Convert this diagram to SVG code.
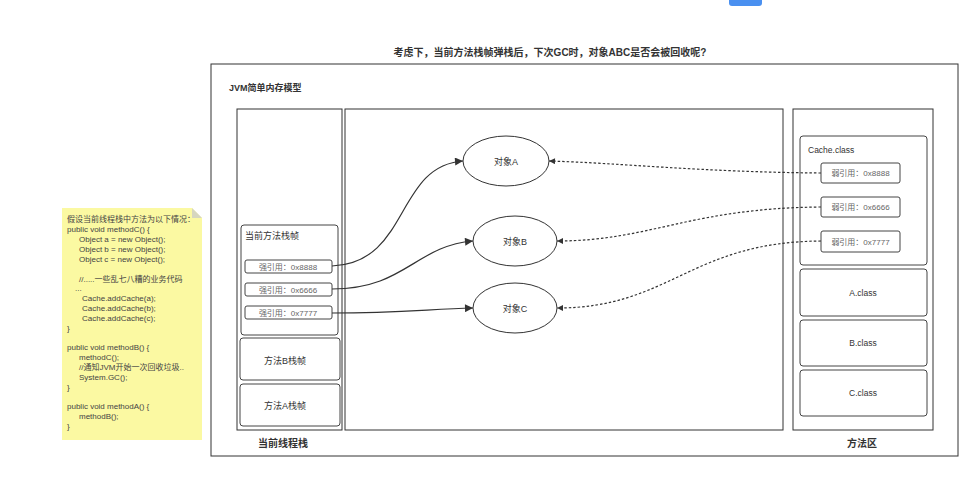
<svg xmlns="http://www.w3.org/2000/svg" width="972" height="499" viewBox="0 0 972 499">
<style>
text{font-family:"Liberation Sans","Noto Sans CJK SC",sans-serif;fill:#333}
.b{font-weight:bold}
.box{fill:#fff;stroke:#333;stroke-width:1}
.rbox{fill:#fff;stroke:#444;stroke-width:1}
.note{font-size:8px;fill:#444}
.ref{font-size:8px;fill:#666}
.lbl{font-size:9px}
.sol{fill:none;stroke:#333;stroke-width:1.2}
.dash{fill:none;stroke:#333;stroke-width:1.2;stroke-dasharray:2.5,2}
</style>
<defs>
<marker id="ah" viewBox="0 0 10 10" refX="10" refY="5" markerWidth="11" markerHeight="8" markerUnits="userSpaceOnUse" orient="auto">
<path d="M0,0 L10,5 L0,10 z" fill="#333"/>
</marker>
<marker id="ahs" viewBox="0 0 10 10" refX="10" refY="5" markerWidth="7" markerHeight="6" markerUnits="userSpaceOnUse" orient="auto">
<path d="M0,0 L10,5 L0,10 z" fill="#333"/>
</marker>
</defs>
<rect width="972" height="499" fill="#fff"/>
<rect x="729" y="-4" width="33" height="10" rx="3" fill="#4a90f0"/>
<text x="550" y="56" text-anchor="middle" class="b" font-size="10">考虑下，当前方法栈帧弹栈后，下次GC时，对象ABC是否会被回收呢?</text>

<g id="note">
<path d="M62,208 H192 L202,218 V440 H62 Z" fill="#fbf9a2"/>
<path d="M192,208 L202,218 H192 Z" fill="#d6d6c0"/>
<text class="note" x="67" y="222">假设当前线程栈中方法为以下情况：</text>
<text class="note" x="67" y="232">public void methodC() {</text>
<text class="note" x="79" y="242">Object a = new Object();</text>
<text class="note" x="79" y="252">Object b = new Object();</text>
<text class="note" x="79" y="262">Object c = new Object();</text>
<text class="note" x="79" y="282">//.....一些乱七八糟的业务代码</text>
<text class="note" x="75" y="291">...</text>
<text class="note" x="82" y="301">Cache.addCache(a);</text>
<text class="note" x="82" y="311">Cache.addCache(b);</text>
<text class="note" x="82" y="321">Cache.addCache(c);</text>
<text class="note" x="67" y="331">}</text>
<text class="note" x="67" y="350">public void methodB() {</text>
<text class="note" x="79" y="360">methodC();</text>
<text class="note" x="79" y="370">//通知JVM开始一次回收垃圾..</text>
<text class="note" x="79" y="380">System.GC();</text>
<text class="note" x="67" y="390">}</text>
<text class="note" x="67" y="409">public void methodA() {</text>
<text class="note" x="79" y="419">methodB();</text>
<text class="note" x="67" y="429">}</text>
</g>

<g id="jvm">
<rect x="211" y="64" width="747" height="392" fill="#fff" stroke="#333" stroke-width="1"/>
<text x="229" y="91" class="b" font-size="9">JVM简单内存模型</text>
</g>

<g id="stack">
<rect class="box" x="237" y="109" width="105" height="321"/>
<text x="283" y="447" text-anchor="middle" class="b" font-size="10">当前线程栈</text>
</g>
<g id="heap">
<rect class="box" x="345" y="109" width="438" height="321"/>
</g>
<g id="methodArea">
<rect class="box" x="793" y="109" width="140" height="321"/>
<text x="862" y="447" text-anchor="middle" class="b" font-size="10">方法区</text>
</g>

<g id="curFrame">
<rect class="rbox" x="241" y="225" width="97" height="110" rx="3"/>
<text x="245" y="239" font-size="9">当前方法栈帧</text>
</g>
<g id="ref8888"><rect class="rbox" x="245" y="260" width="87" height="13" rx="2"/><text class="ref" x="288" y="269.5" text-anchor="middle">强引用：0x8888</text></g>
<g id="ref6666"><rect class="rbox" x="245" y="283" width="87" height="13" rx="2"/><text class="ref" x="288" y="292.5" text-anchor="middle">强引用：0x6666</text></g>
<g id="ref7777"><rect class="rbox" x="245" y="306" width="87" height="13" rx="2"/><text class="ref" x="288" y="315.5" text-anchor="middle">强引用：0x7777</text></g>
<g id="frameB"><rect class="rbox" x="240" y="338" width="100" height="42" rx="3"/><text x="285" y="364" text-anchor="middle" font-size="9">方法B栈帧</text></g>
<g id="frameA"><rect class="rbox" x="240" y="384" width="100" height="42" rx="3"/><text x="285" y="409" text-anchor="middle" font-size="9">方法A栈帧</text></g>

<g id="objA"><ellipse cx="506" cy="161" rx="43" ry="25" fill="#fff" stroke="#333"/><text class="lbl" x="506" y="164.5" text-anchor="middle">对象A</text></g>
<g id="objB"><ellipse cx="515" cy="241" rx="42" ry="25" fill="#fff" stroke="#333"/><text class="lbl" x="515" y="244.5" text-anchor="middle">对象B</text></g>
<g id="objC"><ellipse cx="515" cy="308" rx="42" ry="25" fill="#fff" stroke="#333"/><text class="lbl" x="515" y="311.5" text-anchor="middle">对象C</text></g>

<g id="cacheClass">
<rect class="rbox" x="800" y="136" width="127" height="129" rx="3"/>
<text x="808" y="153" font-size="8.5">Cache.class</text>
</g>
<g id="weak8888"><rect class="rbox" x="821" y="163" width="79" height="20" rx="2"/><text class="ref" x="860.5" y="176" text-anchor="middle">弱引用：0x8888</text></g>
<g id="weak6666"><rect class="rbox" x="821" y="197" width="79" height="20" rx="2"/><text class="ref" x="860.5" y="210" text-anchor="middle">弱引用：0x6666</text></g>
<g id="weak7777"><rect class="rbox" x="821" y="231" width="79" height="21" rx="2"/><text class="ref" x="860.5" y="244.5" text-anchor="middle">弱引用：0x7777</text></g>
<g id="aClass"><rect class="rbox" x="800" y="269" width="127" height="47" rx="3"/><text x="863" y="295.5" text-anchor="middle" font-size="8.5">A.class</text></g>
<g id="bClass"><rect class="rbox" x="800" y="320" width="127" height="46" rx="3"/><text x="863" y="346" text-anchor="middle" font-size="8.5">B.class</text></g>
<g id="cClass"><rect class="rbox" x="800" y="370" width="127" height="46" rx="3"/><text x="863" y="396" text-anchor="middle" font-size="8.5">C.class</text></g>

<g id="connectors">
<path class="sol" d="M332,266 C410,263 395,166 463,161" marker-end="url(#ah)"/>
<path class="sol" d="M332,289 C405,289 415,246 473,241" marker-end="url(#ah)"/>
<path class="sol" d="M332,313 C400,313 430,309 473,308" marker-end="url(#ah)"/>
<path class="dash" d="M821,173 C700,172 620,163 549,161" marker-end="url(#ahs)"/>
<path class="dash" d="M821,207 C690,208 650,241 557,241" marker-end="url(#ahs)"/>
<path class="dash" d="M821,241 C690,242 670,308 557,308" marker-end="url(#ahs)"/>
</g>
</svg>
